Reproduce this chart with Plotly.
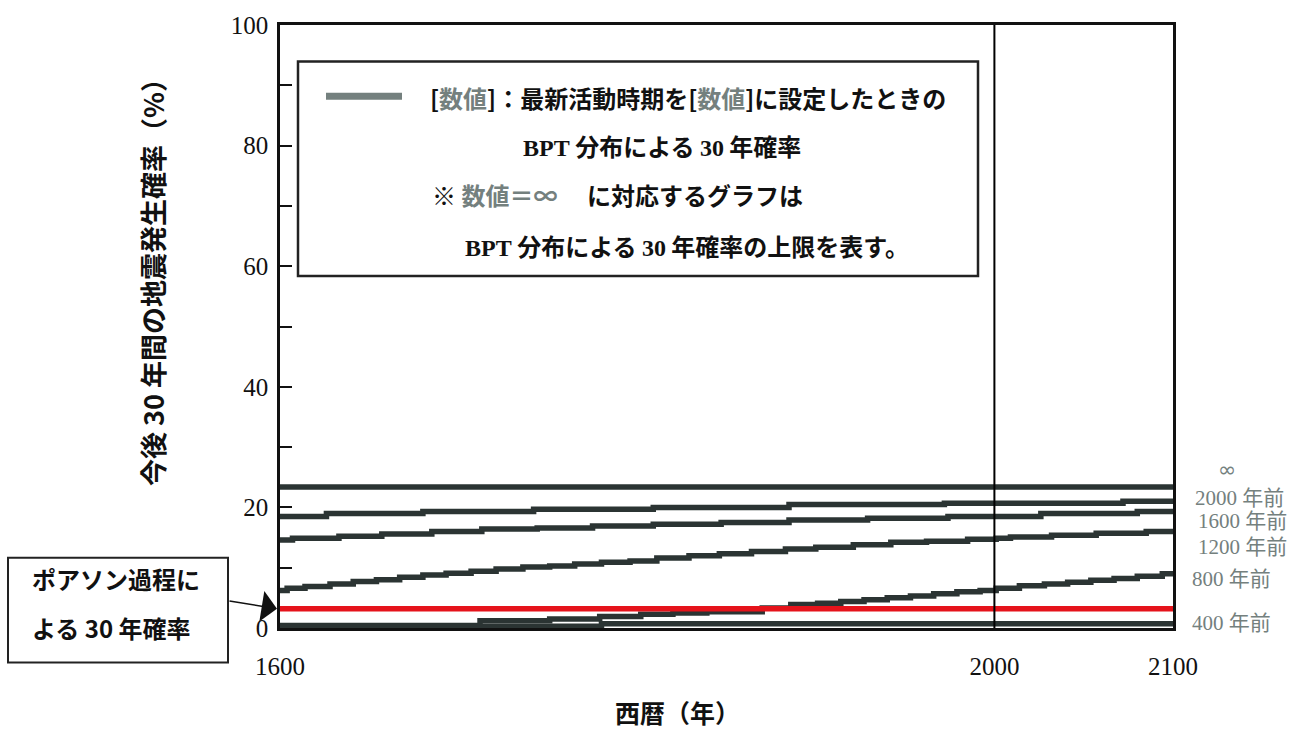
import plotly.graph_objects as go

# ---------------- data ----------------
years_inf = [1600, 2100]
prob_inf = [23.4, 23.4]

years_2000 = [1600, 1626, 1680, 1742, 1809, 1885, 1972, 2072, 2100]
prob_2000 = [18.5, 19.0, 19.3, 19.7, 20.0, 20.5, 20.7, 21.0, 21.0]

years_1600 = [1600, 1607, 1633, 1657, 1685, 1713, 1744, 1775, 1809, 1847, 1885,
              1929, 1974, 2026, 2080, 2100]
prob_1600 = [14.6, 14.9, 15.2, 15.6, 16.0, 16.4, 16.6, 16.9, 17.2, 17.5, 17.9,
             18.2, 18.5, 19.0, 19.3, 19.3]

years_1200 = [1600, 1604, 1614, 1628, 1641, 1654, 1667, 1680, 1693, 1707, 1721,
              1736, 1751, 1765, 1780, 1796, 1811, 1829, 1846, 1864, 1883, 1900,
              1921, 1942, 1962, 1985, 2001, 2009, 2032, 2057, 2085, 2100]
prob_1200 = [6.2, 6.6, 6.9, 7.3, 7.7, 8.0, 8.4, 8.8, 9.1, 9.4, 9.8,
             10.1, 10.3, 10.6, 10.9, 11.1, 11.6, 12.0, 12.3, 12.7, 13.1, 13.4,
             13.8, 14.2, 14.4, 14.7, 14.9, 15.1, 15.4, 15.7, 16.0, 16.0]

years_800 = [1600, 1712, 1751, 1779, 1802, 1820, 1839, 1870, 1886, 1901, 1914,
             1927, 1940, 1953, 1966, 1979, 1992, 2001, 2014, 2028, 2041, 2054,
             2067, 2080, 2094, 2100]
prob_800 = [0.4, 1.2, 1.5, 1.9, 2.3, 2.5, 2.7, 3.3, 3.9, 4.1, 4.4,
            4.7, 5.0, 5.3, 5.7, 6.0, 6.2, 6.6, 7.0, 7.3, 7.6, 7.9,
            8.2, 8.6, 9.0, 9.0]

years_400 = [1600, 1780, 2100]
prob_400 = [0.3, 0.7, 0.7]

years_poisson = [1600, 2100]
prob_poisson = [3.2, 3.2]

series_labels = ["∞", "2000 年前", "1600 年前", "1200 年前", "800 年前", "400 年前"]
x_ticks = [1600, 2000, 2100]
y_ticks = [0, 20, 40, 60, 80, 100]

# ---------------- style ----------------
DARK = "#2b3433"
GRAY = "#74807e"
RED = "#e5131b"
JP = "Noto Sans CJK JP"
SERIF = "Liberation Serif"

fig = go.Figure()

series = [
    (years_inf, prob_inf),
    (years_2000, prob_2000),
    (years_1600, prob_1600),
    (years_1200, prob_1200),
    (years_800, prob_800),
    (years_400, prob_400),
]
for (xs, ys), name in zip(series, series_labels):
    fig.add_trace(go.Scatter(x=xs, y=ys, mode="lines", name=name,
                             line=dict(color=DARK, width=5.5, shape="hv"),
                             showlegend=False, hoverinfo="skip"))

fig.add_trace(go.Scatter(x=years_poisson, y=prob_poisson, mode="lines",
                         name="ポアソン過程", line=dict(color=RED, width=5.5),
                         showlegend=False, hoverinfo="skip"))

L, R, T, B = 280, 141, 18, 103
W, H = 1314, 731
PW, PH = W - L - R, H - T - B


def px(xp):
    return (xp - L) / PW


def py(yp):
    return (H - B - yp) / PH


def serif(s):
    return f'<span style="font-family:{SERIF}">{s}</span>'


def gray(s):
    return f'<span style="color:{GRAY}">{s}</span>'


shapes = [
    # 2000 vertical line
    dict(type="line", xref="x", yref="y", x0=2000, x1=2000, y0=0, y1=100,
         line=dict(color="black", width=2)),
    # legend box
    dict(type="rect", xref="paper", yref="paper", x0=px(298), x1=px(978),
         y0=py(272), y1=py(55), line=dict(color="#222", width=2.5),
         fillcolor="white", layer="above"),
    dict(type="line", xref="paper", yref="paper", x0=px(326), x1=px(402),
         y0=py(90), y1=py(90), line=dict(color=GRAY, width=7), layer="above"),
    # poisson box
    dict(type="rect", xref="paper", yref="paper", x0=px(8), x1=px(228),
         y0=py(663), y1=py(557), line=dict(color="#222", width=2),
         fillcolor="white"),
]

ann = []
jpfont = dict(family=JP, size=24, color="#111")
ann.append(dict(xref="paper", yref="paper", x=px(428), y=py(91), xanchor="left",
                yanchor="middle", showarrow=False, font=jpfont,
                text="<b>" + "[" + gray("数値") + "]：最新活動時期を[" + gray("数値")
                + "]に設定したときの</b>"))
ann.append(dict(xref="paper", yref="paper", x=px(662), y=py(140), xanchor="center",
                yanchor="middle", showarrow=False, font=jpfont,
                text="<b>" + serif("BPT") + " 分布による " + serif("30") + " 年確率</b>"))
ann.append(dict(xref="paper", yref="paper", x=px(430), y=py(189), xanchor="left",
                yanchor="middle", showarrow=False, font=jpfont,
                text="<b>※ " + gray("数値＝∞") + "　 に対応するグラフは</b>"))
ann.append(dict(xref="paper", yref="paper", x=px(463), y=py(241), xanchor="left",
                yanchor="middle", showarrow=False, font=jpfont,
                text="<b>" + serif("BPT") + " 分布による " + serif("30")
                + " 年確率の上限を表す。</b>"))

# Poisson box text
ann.append(dict(xref="paper", yref="paper", x=px(30), y=py(578), xanchor="left",
                yanchor="middle", showarrow=False,
                font=dict(family=JP, size=24, color="#111"),
                text="<b>ポアソン過程に</b>"))
ann.append(dict(xref="paper", yref="paper", x=px(30), y=py(627), xanchor="left",
                yanchor="middle", showarrow=False,
                font=dict(family=JP, size=24, color="#111"),
                text="<b>よる " + "30" + " 年確率</b>"))
# arrow
ann.append(dict(xref="paper", yref="y", x=px(277), y=prob_poisson[0], text="",
                showarrow=True, axref="pixel", ayref="pixel", ax=-49, ay=-8,
                arrowhead=1, arrowsize=3.2, arrowwidth=1.6, arrowcolor="#111"))

# right-side labels
label_pos = [(1227, 468, "center"), (1193, 496, "left"), (1196, 520, "left"),
             (1196, 546, "left"), (1190, 578, "left"), (1190, 623, "left")]
for (xp, yp, anc), lab in zip(label_pos, series_labels):
    if lab == "∞":
        txt = lab
        fnt = dict(family="DejaVu Sans", size=22, color=GRAY)
    else:
        num, rest = lab.split(" ")
        txt = serif(num) + " " + rest
        fnt = dict(family=SERIF + ", " + JP, size=21, color=GRAY)
    ann.append(dict(xref="paper", yref="paper", x=px(xp), y=py(yp), xanchor=anc,
                    yanchor="middle", showarrow=False, font=fnt, text=txt))

# axis titles
ann.append(dict(xref="paper", yref="paper", x=px(152), y=py(272), xanchor="center",
                yanchor="middle", showarrow=False, textangle=-90,
                font=dict(family=JP, size=27, color="#111"),
                text="<b>今後 30 年間の地震発生確率（%）</b>"))
ann.append(dict(xref="paper", yref="paper", x=px(677), y=py(713), xanchor="center",
                yanchor="middle", showarrow=False,
                font=dict(family=JP, size=25, color="#111"),
                text="<b>西暦（年）</b>"))

fig.update_layout(
    width=W, height=H,
    margin=dict(l=L, r=R, t=T, b=B, pad=0),
    paper_bgcolor="white", plot_bgcolor="white",
    shapes=shapes, annotations=ann,
    xaxis=dict(range=[1600, 2100], tickvals=x_ticks, ticks="", showgrid=False,
               zeroline=False, showline=True, mirror=True, linecolor="#111",
               linewidth=2.5, tickfont=dict(family=SERIF, size=25, color="#111"),
               ticklabelstandoff=14),
    yaxis=dict(range=[0, 100], tickvals=y_ticks, ticks="inside", ticklen=12,
               tickwidth=1.5, tickcolor="#111", showgrid=False, zeroline=False,
               showline=True, mirror=True, linecolor="#111", linewidth=2.5,
               tickfont=dict(family=SERIF, size=25, color="#111"),
               ticklabelstandoff=4,
               minor=dict(dtick=10, ticks="inside", ticklen=12, tickwidth=1.5,
                          tickcolor="#111")),
)

fig.write_html("out.html", config={"displayModeBar": False},
               post_script="document.body.style.margin='0';")
